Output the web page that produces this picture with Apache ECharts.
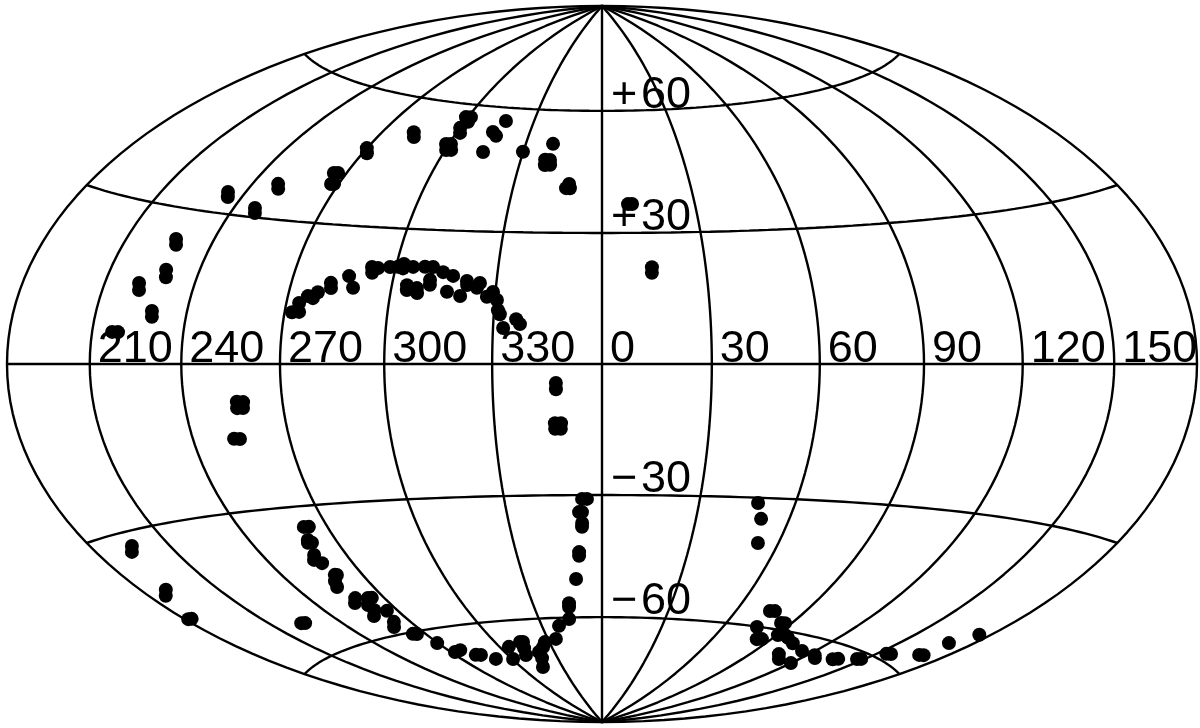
<!DOCTYPE html>
<html>
<head>
<meta charset="utf-8">
<script src="https://cdn.jsdelivr.net/npm/echarts@6/dist/echarts.min.js"></script>
</head>
<body style="margin:0;background:#fff">
<div id="chart" style="width:1200px;height:728px"></div>
<script>
// positions, galactic longitude / latitude in degrees
var pointLon = [
  272.2,274.3,273.8,276.0,277.6,278.7,281.9,282.3,286.8,288.8,
  292.9,293.4,294.8,298.3,300.6,302.2,302.2,305.1,308.6,311.0,
  314.2,317.3,321.5,321.7,325.3,324.6,329.3,327.7,330.6,331.1,
  331.7,332.8,336.3,337.4,304.4,304.6,307.4,307.7,310.8,311.0,
  316.2,320.1,233.8,235.2,247.2,248.3,249.0,250.4,265.5,267.0,
  267.4,268.4,269.9,271.6,282.6,284.3,299.1,301.3,301.6,300.1,
  301.5,298.9,300.8,300.4,302.3,317.7,314.7,316.8,314.8,329.9,
  340.7,339.0,340.8,339.3,341.2,348.8,347.9,349.2,227.2,228.3,
  229.0,229.9,221.7,222.5,228.7,229.1,216.8,218.8,8.4,9.7,
  14.4,14.3,347.4,347.4,256.3,258.2,256.1,257.9,253.0,254.8,
  346.9,348.6,346.9,348.5,353.9,355.4,352.8,353.7,353.6,353.5,
  352.0,351.9,350.0,345.7,345.4,344.3,338.5,264.1,265.9,269.6,
  272.2,276.4,281.4,284.3,290.1,305.2,300.6,313.7,315.3,313.3,
  311.1,320.5,327.5,324.8,319.7,315.5,334.4,262.1,263.8,260.4,
  259.7,261.1,258.5,257.0,258.9,259.7,260.4,257.5,256.0,258.4,
  256.1,263.5,265.1,260.4,260.5,257.4,265.4,262.7,259.8,223.1,
  224.7,196.0,193.8,189.8,186.6,181.4,182.9,74.7,76.9,76.1,
  82.8,85.3,85.1,86.9,90.5,93.8,97.1,103.1,113.8,105.1,
  109.7,119.9,123.6,126.5,135.9,138.1,146.6,148.3,154.1,156.2,
  168.4,170.4,170.0,175.4,48.3,50.9,53.0
];
var pointLat = [
  10.9,11.0,12.9,14.4,14.0,15.3,17.4,16.3,19.0,16.5,
  21.2,19.9,21.0,21.3,21.4,22.1,21.1,21.5,21.6,21.6,
  20.5,19.7,18.6,17.7,18.2,17.1,16.2,15.1,14.4,12.1,
  11.2,8.1,10.1,9.0,17.4,16.3,16.8,15.7,18.7,17.6,
  16.1,15.2,34.3,33.3,31.9,30.9,37.3,36.3,41.0,41.1,
  38.6,38.7,47.2,46.1,52.0,50.9,56.8,56.9,55.7,54.1,
  52.9,50.0,50.1,48.6,48.7,56.6,53.7,52.8,48.7,49.2,
  51.4,47.4,47.4,46.1,46.2,41.6,40.6,40.6,24.1,23.0,
  18.1,16.7,15.2,13.9,10.1,9.0,5.9,5.9,36.8,36.8,
  22.0,20.7,-4.3,-5.7,-7.7,-7.8,-9.0,-9.0,-15.2,-15.3,
  -13.4,-13.4,-14.7,-14.7,-30.9,-30.9,-34.0,-34.0,-36.6,-37.5,
  -43.6,-44.5,-50.2,-56.3,-57.3,-60.4,-62.1,-60.4,-60.6,-63.4,
  -66.1,-65.9,-67.6,-67.8,-69.3,-66.7,-69.9,-65.7,-65.8,-67.4,
  -69.2,-68.7,-66.2,-67.5,-70.4,-72.8,-65.5,-34.4,-34.5,-37.2,
  -37.8,-37.9,-40.5,-41.5,-42.4,-45.2,-45.3,-46.5,-47.8,-50.7,
  -51.7,-51.1,-51.2,-52.6,-53.9,-55.1,-54.5,-57.1,-58.2,-53.1,
  -53.3,-32.5,-33.4,-40.6,-41.4,-45.7,-45.9,-56.0,-55.9,-60.1,
  -62.9,-62.7,-58.4,-58.3,-61.2,-60.9,-61.4,-62.3,-63.4,-65.2,
  -66.2,-66.3,-63.5,-64.0,-63.1,-62.7,-61.5,-61.2,-58.8,-58.5,
  -56.6,-56.3,-53.1,-50.0,-31.2,-34.8,-40.4
];
var meridians = [-180,-150,-120,-90,-60,-30,0,30,60,90,120,150,180];
var parallels = [-60,-30,0,30,60];
var lonLabels = [210,240,270,300,330,0,30,60,90,120,150];
var latLabels = [60,30,-30,-60];

// hammer-aitoff, result is -1..1 on both axes
function hammer(lon, lat) {
  var l = (lon > 180 ? lon - 360 : lon) * Math.PI / 360;
  var p = lat * Math.PI / 180;
  var w = Math.sqrt(1 + Math.cos(p) * Math.cos(l));
  return [Math.cos(p) * Math.sin(l) / w, Math.sin(p) / w];
}

function gridLine(data) {
  return {
    type: 'line', data: data, symbol: 'none', silent: true, clip: false, z: 1,
    lineStyle: { color: '#000', width: 2.4 }
  };
}

var series = [];
meridians.forEach(function (m) {
  var d = [];
  for (var lat = -90; lat <= 90; lat += 2) d.push(hammer(m, lat));
  series.push(gridLine(d));
});
parallels.forEach(function (p) {
  var d = [];
  for (var l = -180; l <= 180; l += 3) d.push(hammer(l, p));
  series.push(gridLine(d));
});

series.push({
  type: 'scatter', symbol: 'circle', symbolSize: 14, z: 3, silent: true,
  itemStyle: { color: '#000', opacity: 1 },
  data: pointLon.map(function (lon, i) { return hammer(lon, pointLat[i]); })
});

var textStyle = {
  show: true, color: '#000', fontFamily: 'Liberation Sans', fontSize: 45, fontWeight: 'normal',
  position: 'inside', align: 'left', verticalAlign: 'bottom', distance: 0
};
series.push({
  type: 'scatter', symbolSize: 1, z: 4, silent: true, itemStyle: { color: 'transparent', opacity: 1 },
  label: Object.assign({}, textStyle, { offset: [8, 8], formatter: function (p) { return String(p.value[2]); } }),
  data: lonLabels.map(function (l) { return hammer(l, 0).concat(l); })
});
series.push({
  type: 'scatter', symbolSize: 1, z: 4, silent: true, itemStyle: { color: 'transparent', opacity: 1 },
  label: Object.assign({}, textStyle, {
    offset: [9, 7],
    formatter: function (p) { return (p.value[2] > 0 ? '+' : '\u2212') + '\u200a' + Math.abs(p.value[2]); }
  }),
  data: latLabels.map(function (l) { return hammer(0, l).concat(l); })
});

var chart = echarts.init(document.getElementById('chart'));
chart.setOption({
  animation: false,
  backgroundColor: '#fff',
  grid: { left: 7, right: 3, top: 6, bottom: 6 },
  xAxis: { type: 'value', min: -1, max: 1, show: false },
  yAxis: { type: 'value', min: -1, max: 1, show: false },
  series: series
});
</script>
</body>
</html>
